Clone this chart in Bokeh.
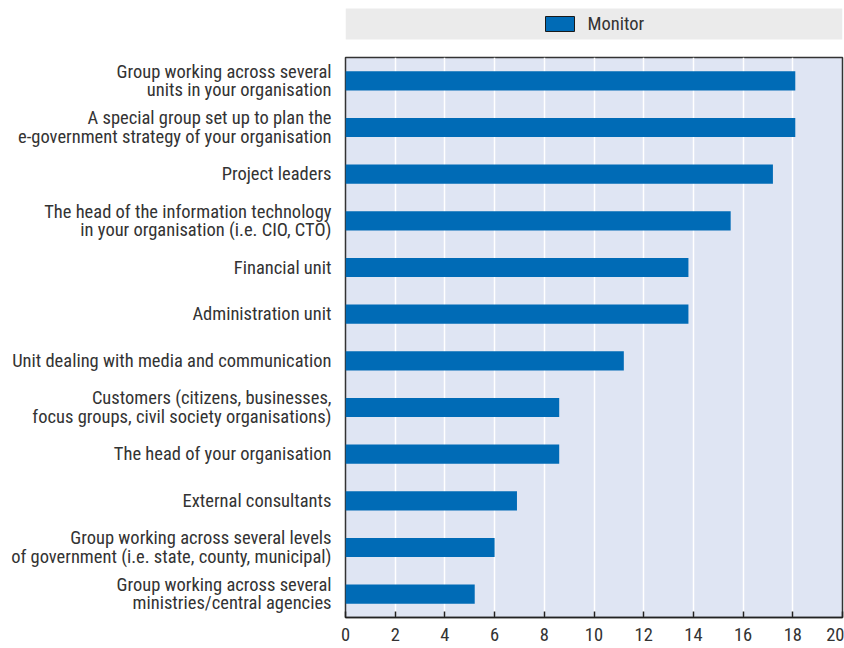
from bokeh.plotting import figure
from bokeh.models import FactorRange, Range1d, FixedTicker, ColumnDataSource
from bokeh.layouts import column
from bokeh.embed import file_html
from bokeh.resources import INLINE
from bokeh.core.properties import value

FONT = "Roboto Condensed, Arial Narrow, sans-serif"
FS = "18.5px"

categories = [
    "Group working across several\nunits in your organisation",
    "A special group set up to plan the\ne-government strategy of your organisation",
    "Project leaders",
    "The head of the information technology\nin your organisation (i.e. CIO, CTO)",
    "Financial unit",
    "Administration unit",
    "Unit dealing with media and communication",
    "Customers (citizens, businesses,\nfocus groups, civil society organisations)",
    "The head of your organisation",
    "External consultants",
    "Group working across several levels\nof government (i.e. state, county, municipal)",
    "Group working across several\nministries/central agencies",
]
monitor = [18.1, 18.1, 17.2, 15.5, 13.8, 13.8, 11.2, 8.6, 8.6, 6.9, 6.0, 5.2]
x_ticks = [0, 2, 4, 6, 8, 10, 12, 14, 16, 18, 20]
series_name = "Monitor"

BAR = "#006bb6"
W = 844
FL, FR = 345, 842  # frame left/right on the page

# ---- legend strip (coordinates are page pixels) ----
top = figure(width=W, height=49, x_range=Range1d(FL, FR), y_range=Range1d(49, 0),
             output_backend="svg", toolbar_location=None, min_border=0,
             min_border_left=FL, min_border_right=W - FR,
             outline_line_color=None)
top.axis.visible = False
top.grid.visible = False
top.quad(left=[FL], right=[FR], top=[8], bottom=[39], fill_color="#ebebeb", line_color=None)
top.quad(left=[545], right=[574], top=[16], bottom=[31], fill_color=BAR,
         line_color="#1a1a1a", line_width=1)
top.text(x=[587], y=[23.5], text=[series_name], text_font=value(FONT),
         text_font_size=FS, text_color="#333333", text_baseline="middle",
         text_align="left")

# ---- main chart ----
src = ColumnDataSource(dict(cat=categories, val=monitor))
p = figure(width=W, height=599, y_range=FactorRange(factors=categories[::-1]),
           x_range=Range1d(0, 20), output_backend="svg", toolbar_location=None,
           min_border_left=FL, min_border_right=W - FR, min_border_top=8,
           min_border_bottom=31)
p.background_fill_color = "#dfe5f3"
p.outline_line_color = "#333333"
p.outline_line_width = 1.5

p.hbar(y="cat", right="val", left=0, height=0.41, source=src,
       fill_color=BAR, line_color=None)

p.xaxis.ticker = FixedTicker(ticks=x_ticks)
p.xaxis.major_tick_in = 6
p.xaxis.major_tick_out = 0
p.xaxis.minor_tick_line_color = None
p.xaxis.axis_line_color = "#222222"
p.xaxis.axis_line_width = 1.5
p.xaxis.major_tick_line_color = "#222222"
p.xaxis.major_tick_line_width = 1.5
p.xaxis.major_label_text_font = FONT
p.xaxis.major_label_text_font_size = FS
p.xaxis.major_label_text_color = "#333333"
p.xaxis.major_label_standoff = 10

p.yaxis.axis_line_color = None
p.yaxis.major_tick_line_color = None
p.yaxis.minor_tick_line_color = None
p.yaxis.major_label_text_font = FONT
p.yaxis.major_label_text_font_size = FS
p.yaxis.major_label_text_color = "#333333"
p.yaxis.major_label_text_line_height = 0.82
p.yaxis.major_label_standoff = 8

p.xgrid.grid_line_color = "white"
p.xgrid.grid_line_width = 1.5
p.ygrid.grid_line_color = None

layout = column(top, p, spacing=0)
open("out.html", "w").write(file_html(layout, INLINE))
